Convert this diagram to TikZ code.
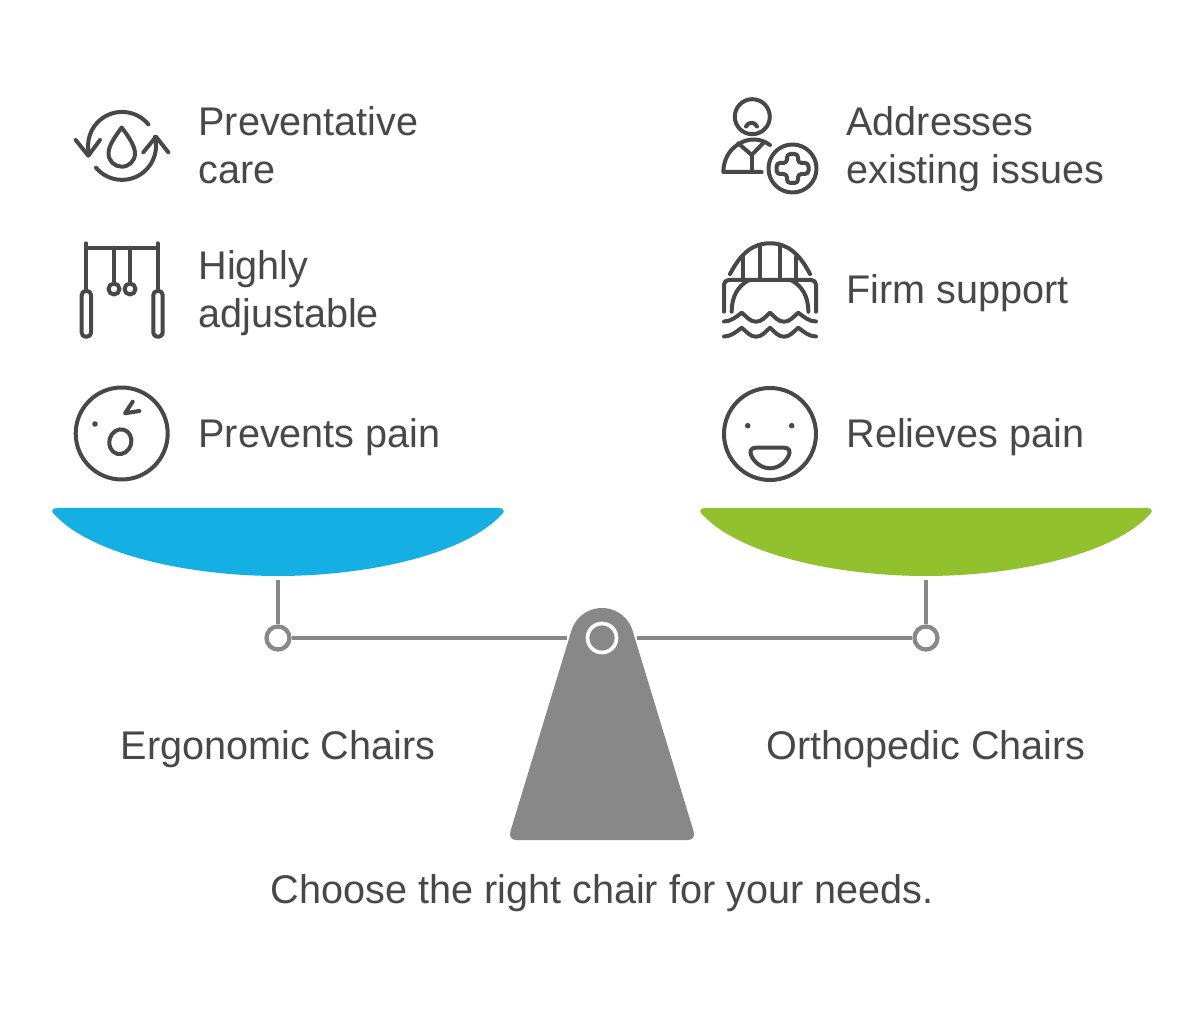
\documentclass[tikz,border=0pt]{standalone}
\usepackage{fontspec}
\setmainfont[FakeStretch=0.99]{Liberation Sans}
\definecolor{ink}{HTML}{484848}
\definecolor{beamgray}{HTML}{888888}
\definecolor{bowlblue}{HTML}{15B0E3}
\definecolor{bowlgreen}{HTML}{92C12E}
\tikzset{
  x=0.75pt,y=-0.75pt,
  lbl/.style={inner sep=0pt,outer sep=0pt,text=ink,font=\fontsize{30}{36}\selectfont,anchor=base west},
  lblc/.style={lbl,anchor=base},
  twoline/.style={lbl,anchor=north west,align=left},
  icon/.style={draw=ink,line width=3pt,line cap=round,line join=round},
  beam/.style={draw=beamgray,line width=3.2pt},
  hinge/.style={circle,draw=beamgray,line width=3.2pt,fill=white,inner sep=0pt,minimum size=17.25pt},
  pinring/.style={circle,draw=white,line width=2.8pt,inner sep=0pt,minimum size=21.75pt},
}
\newcommand{\bowlpath}[2]{%
  \fill[#2,shift={(#1,0)}] (57,508) -- (499,508)
    .. controls (503,508) and (505,511) .. (503,513)
    .. controls (466,555) and (366,576) .. (278,576)
    .. controls (190,576) and (90,555) .. (53,513)
    .. controls (51,511) and (53,508) .. (57,508) -- cycle;}
\begin{document}
\begin{tikzpicture}
\useasboundingbox[fill=white] (0,0) rectangle (1204,1012);

% pans
\bowlpath{0}{bowlblue}
\bowlpath{648}{bowlgreen}

% fulcrum
\fill[beamgray] (516,840) -- (688,840)
  .. controls (693,840) and (695,836) .. (693.5,831)
  -- (632.6,630.7) arc[start angle=343.1,end angle=196.9,radius=32]
  -- (510.5,831)
  .. controls (509,836) and (511,840) .. (516,840) -- cycle;
\node[pinring] (pin) at (602,638) {};

% beam and hangers
\coordinate (panL) at (278,580);
\coordinate (panR) at (926,580);
\coordinate (gapL) at (567,638);
\coordinate (gapR) at (637,638);
\node[hinge] (hingeL) at (278,638) {};
\node[hinge] (hingeR) at (926,638) {};
\draw[beam] (panL) -- (hingeL);
\draw[beam] (panR) -- (hingeR);
\draw[beam] (hingeL) -- (gapL);
\draw[beam] (gapR) -- (hingeR);

% texts
\node[twoline] (t1) at (198.5,101.8) {\strut Preventative\\care\strut};
\node[twoline] (t2) at (198.5,245.8) {\strut Highly\\adjustable\strut};
\node[lbl] (t3) at (198.5,447.4) {Prevents pain};
\node[twoline] (t4) at (846.5,101.8) {\strut Addresses\\existing issues\strut};
\node[lbl] (t5) at (846.5,303.4) {Firm support};
\node[lbl] (t6) at (846.5,447.4) {Relieves pain};
\node[lblc] (ergo) at (278,759.4) {Ergonomic Chairs};
\node[lblc] (orth) at (926,759.4) {Orthopedic Chairs};
\node[lblc] (cap) at (602,903.4) {Choose the right chair for your needs.};

% icon: cycle with drop
\draw[icon] (148.3,124.3) arc[start angle=320.5,end angle=167.8,radius=34];
\draw[icon] (75.7,140) -- (88.3,155.7) -- (100,140);
\draw[icon] (96,167.7) arc[start angle=140,end angle=-15.3,radius=34];
\draw[icon] (143.3,152.3) -- (156,136.7) -- (168.3,152.3);
\draw[icon] (121.7,127.5) .. controls (117,134) and (108.5,145) .. (108.5,153.3)
  .. controls (108.5,161) and (114.5,166.7) .. (121.7,166.7)
  .. controls (129,166.7) and (135,161) .. (135,153.3)
  .. controls (135,145) and (126.5,134) .. (121.7,127.5) -- cycle;

% icon: gymnastic rings
\draw[icon] (86,247.7) -- (157.7,247.7);
\draw[icon] (86,243.3) -- (86,291);
\draw[icon] (157.7,243.3) -- (157.7,291);
\draw[icon,rounded corners=3pt] (81.7,291) rectangle (91,336.7);
\draw[icon,rounded corners=3pt] (153.3,291) rectangle (162.7,336.7);
\draw[icon] (114,247.7) -- (114,283.5);
\draw[icon] (130,247.7) -- (130,283.5);
\draw[icon] (114,289) circle (5.5);
\draw[icon] (130,289) circle (5.5);

% icon: surprised face
\draw[icon] (121.7,433.5) circle (46);
\fill[ink] (95,424) circle (2.8);
\draw[icon,rotate around={-15:(120.3,441.7)}] (120.3,441.7) ellipse (11 and 12.5);
\draw[icon] (132.7,401.7) -- (125,413.3) -- (139.3,411);

% icon: patient with plus
\draw[icon] (752.3,116.7) circle (17.5);
\draw[icon] (746,126.5) .. controls (748,121.5) and (755,121.5) .. (757,126.5);
\draw[icon] (761.7,172) -- (723.3,172) .. controls (723.5,160) and (729,150) .. (738,144.5)
  .. controls (747,138) and (760,137.5) .. (770,145);
\draw[icon] (738.3,143.3) -- (751.7,155) -- (763.3,143);
\draw[icon] (751.7,155) -- (751.7,172);
\draw[icon] (792.5,168.5) circle (24);
\draw[icon,rounded corners=2.6pt] (787,154) -- (798,154) -- (798,163) -- (808.5,163) -- (808.5,174) -- (798,174) -- (798,183) -- (787,183) -- (787,174) -- (776.5,174) -- (776.5,163) -- (787,163) -- cycle;

% icon: bridge
\draw[icon] (730,274) .. controls (741,253) and (753,243.3) .. (770,243.3)
  .. controls (787,243.3) and (799,253) .. (810,274);
\draw[icon] (743.3,257) -- (743.3,280);
\draw[icon] (760,245) -- (760,280);
\draw[icon] (780,245) -- (780,280);
\draw[icon] (796,257) -- (796,280);
\draw[icon,rounded corners=3.5pt] (724,311.7) -- (724,280) -- (816,280) -- (816,311.7);
\draw[icon] (731.7,311.7) .. controls (731.7,296) and (738,286) .. (749,280);
\draw[icon] (808.3,311.7) .. controls (808.3,296) and (802,286) .. (791,280);
\foreach \dy in {0,15}{
  \draw[icon,shift={(0,\dy)}] (724,321.5) .. controls (731,321.5) and (736,317) .. (741.7,312.7)
    .. controls (747,317) and (750,321.7) .. (756,321.7)
    .. controls (762,321.7) and (765,317) .. (770,312.7)
    .. controls (775,317) and (778,321.7) .. (784,321.7)
    .. controls (790,321.7) and (793,317) .. (798.3,312.7)
    .. controls (804,317) and (809,321.5) .. (816,321.5);
}

% icon: smiling face
\draw[icon] (770,434) circle (46);
\fill[ink] (747.7,425.7) circle (2.8);
\fill[ink] (791.7,425.7) circle (2.8);
\draw[icon] (756,447.7) -- (784,447.7) .. controls (789,447.7) and (790.5,451) .. (789,455)
  .. controls (785.5,463) and (778,468.3) .. (770,468.3)
  .. controls (762,468.3) and (754.5,463) .. (751,455)
  .. controls (749.5,451) and (751,447.7) .. (756,447.7) -- cycle;
\end{tikzpicture}
\end{document}
